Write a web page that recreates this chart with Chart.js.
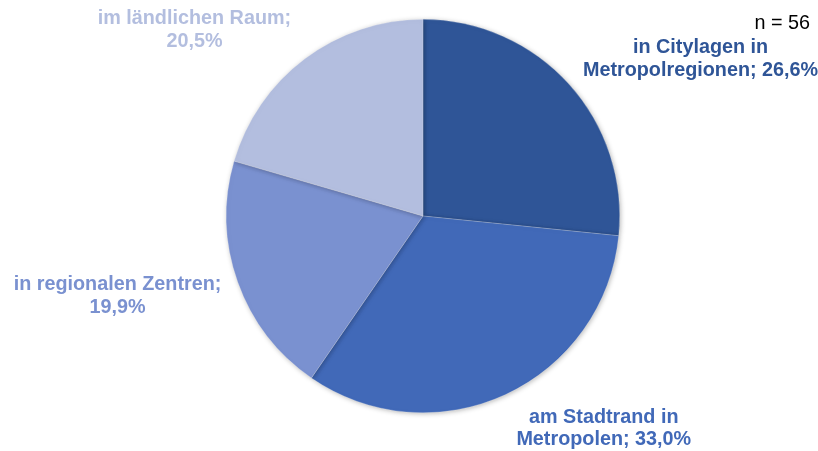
<!DOCTYPE html>
<html>
<head>
<meta charset="utf-8">
<script src="https://cdn.jsdelivr.net/npm/chart.js@4"></script>
<style>
  html, body { margin: 0; padding: 0; background: #fff; }
  #wrap { width: 818px; height: 451px; position: relative; }
</style>
</head>
<body>
<div id="wrap"><canvas id="chart"></canvas></div>
<script>
const categories = [
    ['in Citylagen in', 'Metropolregionen; 26,6%'],
    ['am Stadtrand in', 'Metropolen; 33,0%'],
    ['in regionalen Zentren;', '19,9%'],
    ['im ländlichen Raum;', '20,5%']
];
const shares = [26.6, 33.0, 19.9, 20.5];
const sliceColors = ['#2F5597', '#4169B8', '#7A91D0', '#B3BEDF'];
const sampleNote = 'n = 56';

// label anchors, in units of the pie radius from its centre
const labelOffsets = [[1.411, -0.80], [0.919, 1.081], [-1.553, 0.406], [-1.162, -0.947]];

const shadowPlugin = {
    id: 'shadow',
    beforeDatasetDraw(chart) {
        const ctx = chart.ctx;
        ctx.save();
        ctx.shadowColor = 'rgba(0,0,0,0.28)';
        ctx.shadowBlur = 5;
        ctx.shadowOffsetX = 1;
        ctx.shadowOffsetY = 1;
    },
    afterDatasetDraw(chart) {
        chart.ctx.restore();
    }
};

const labelPlugin = {
    id: 'sliceLabels',
    afterDraw(chart) {
        const ctx = chart.ctx;
        const arcs = chart.getDatasetMeta(0).data;
        ctx.save();
        ctx.font = 'bold 19.8px "Liberation Sans", Arial, sans-serif';
        ctx.textAlign = 'center';
        ctx.textBaseline = 'middle';
        arcs.forEach((arc, i) => {
            const x = arc.x + labelOffsets[i][0] * arc.outerRadius;
            const y = arc.y + labelOffsets[i][1] * arc.outerRadius;
            ctx.fillStyle = sliceColors[i];
            categories[i].forEach((line, j) => {
                ctx.fillText(line, x, y + (j - 0.5) * 22.8);
            });
        });
        ctx.font = '19.8px "Liberation Sans", Arial, sans-serif';
        ctx.fillStyle = '#000';
        ctx.textAlign = 'right';
        ctx.fillText(sampleNote, 810, 24);
        ctx.restore();
    }
};

new Chart(document.getElementById('chart'), {
    type: 'pie',
    data: {
        labels: categories.map(c => c.join(' ')),
        datasets: [{
            data: shares,
            backgroundColor: sliceColors,
            borderColor: 'rgba(255,255,255,0.35)',
            borderWidth: 0.6
        }]
    },
    options: {
        responsive: true,
        maintainAspectRatio: false,
        animation: false,
        layout: { padding: { left: 226, right: 198, top: 19, bottom: 38 } },
        plugins: {
            legend: { display: false },
            tooltip: { enabled: false }
        }
    },
    plugins: [shadowPlugin, labelPlugin]
});
</script>
</body>
</html>
